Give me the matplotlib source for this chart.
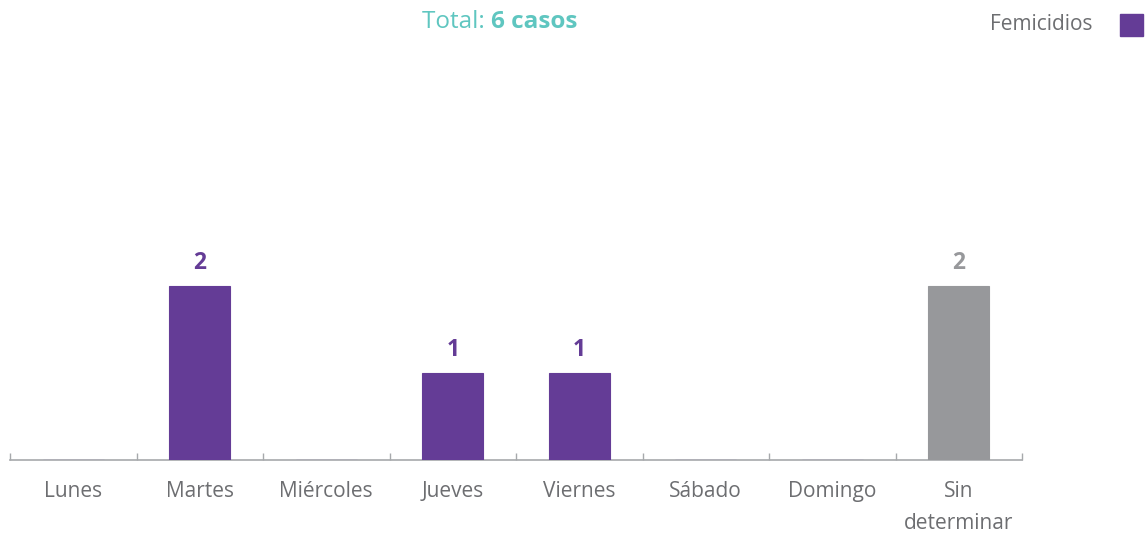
import numpy as np
import matplotlib.pyplot as plt
from matplotlib.patches import Rectangle

dias = ["Lunes", "Martes", "Miércoles", "Jueves", "Viernes", "Sábado", "Domingo", "Sin\ndeterminar"]
casos = [0, 2, 0, 1, 1, 0, 0, 2]
colores = ["#643c96"] * 7 + ["#97989b"]
total = 6

purple = "#643c96"
gris_txt = "#6d6e71"
teal = "#5fc6c0"

plt.rcParams['font.family'] = ['Open Sans', 'DejaVu Sans']

fig = plt.figure(figsize=(11.47, 5.33), dpi=100)
ax = fig.add_axes([10 / 1147, 73 / 533, 1012 / 1147, 409 / 533])

x = np.arange(len(dias))
bars = ax.bar(x, casos, width=0.48, color=colores, edgecolor=colores, linewidth=0.8, zorder=3)
for xi, v, c in zip(x, casos, colores):
    if v > 0:
        ax.annotate(str(v), (xi, v), xytext=(0, 8), textcoords="offset points",
                    ha="center", va="bottom", fontsize=16.5, fontweight="bold", color=c)

ax.set_xlim(-0.5, len(dias) - 0.5)
ax.set_ylim(0, 4.7)
for s in ("top", "right", "left"):
    ax.spines[s].set_visible(False)
ax.spines["bottom"].set_color("#a7a9ac")
ax.spines["bottom"].set_linewidth(1.2)
ax.spines["bottom"].set_zorder(1)
ax.set_yticks([])

ax.set_xticks(x)
ax.set_xticklabels(dias, fontsize=15, color=gris_txt, linespacing=1.68)
ax.tick_params(axis="x", which="major", length=0, pad=15)
ax.set_xticks(np.arange(-0.5, len(dias)), minor=True)
ax.tick_params(axis="x", which="minor", direction="in", length=5, width=1, color="#a7a9ac")

# title
t1 = fig.text(0.0, 1 - 22 / 533, "Total: ", fontsize=17.5, color=teal, va="center", ha="left")
fig.canvas.draw()
r = fig.canvas.get_renderer()
w1 = t1.get_window_extent(r).width
t2 = fig.text(0, 1 - 22 / 533, "6 casos", fontsize=17.5, color=teal, fontweight="bold",
              va="center", ha="left")
w2 = t2.get_window_extent(r).width
x0 = 500 - (w1 + w2) / 2
t1.set_x(x0 / 1147)
t2.set_x((x0 + w1) / 1147)

# legend
fig.text(1092 / 1147, 1 - 25 / 533, "Femicidios", fontsize=15, color=gris_txt,
         ha="right", va="center")
fig.patches.append(Rectangle((1120 / 1147, 1 - 36 / 533), 23 / 1147, 22 / 533,
                             transform=fig.transFigure, color=purple))

fig.savefig("out.png", dpi=100)
